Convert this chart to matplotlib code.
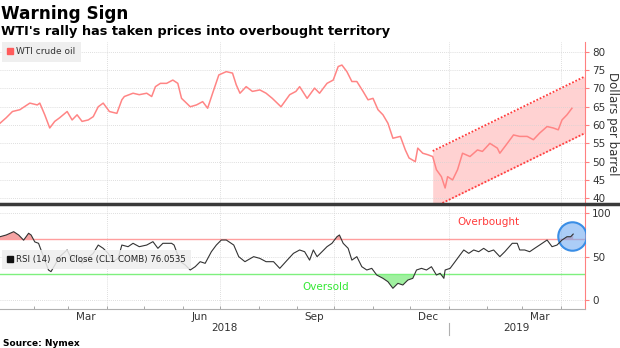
import matplotlib
matplotlib.use('Agg')
import matplotlib.pyplot as plt
import matplotlib.dates as mdates
import matplotlib.transforms as mtransforms
import matplotlib.patches as mpatches
from matplotlib.lines import Line2D
import pandas as pd
import numpy as np

# WTI crude oil
price_dates = [
    '2018-01-05', '2018-01-10', '2018-01-15', '2018-01-21', '2018-01-29',
    '2018-02-04', '2018-02-06', '2018-02-10', '2018-02-14', '2018-02-18', '2018-02-22', '2018-02-28',
    '2018-03-04', '2018-03-08', '2018-03-12', '2018-03-17', '2018-03-21', '2018-03-25', '2018-03-29',
    '2018-04-03', '2018-04-09', '2018-04-13', '2018-04-15', '2018-04-22', '2018-04-27',
    '2018-05-03', '2018-05-07', '2018-05-10', '2018-05-14', '2018-05-19', '2018-05-24', '2018-05-28', '2018-05-31',
    '2018-06-04', '2018-06-07', '2018-06-12', '2018-06-17', '2018-06-21', '2018-06-25', '2018-06-30',
    '2018-07-06', '2018-07-11', '2018-07-14', '2018-07-17', '2018-07-22', '2018-07-27',
    '2018-08-02', '2018-08-07', '2018-08-12', '2018-08-19', '2018-08-26', '2018-08-31',
    '2018-09-03', '2018-09-09', '2018-09-15', '2018-09-19', '2018-09-25', '2018-09-30',
    '2018-10-04', '2018-10-07', '2018-10-11', '2018-10-15', '2018-10-19', '2018-10-24', '2018-10-28',
    '2018-11-01', '2018-11-05', '2018-11-09', '2018-11-13', '2018-11-17', '2018-11-23', '2018-11-27', '2018-11-30',
    '2018-12-05', '2018-12-07', '2018-12-11', '2018-12-15', '2018-12-19', '2018-12-22', '2018-12-26', '2018-12-29', '2018-12-31',
    '2019-01-04', '2019-01-08', '2019-01-12', '2019-01-18', '2019-01-24', '2019-01-28',
    '2019-02-03', '2019-02-09', '2019-02-11', '2019-02-17', '2019-02-22', '2019-02-27',
    '2019-03-05', '2019-03-10', '2019-03-15', '2019-03-21', '2019-03-26', '2019-03-30',
    '2019-04-02', '2019-04-06', '2019-04-10',
]
prices = [
    60.5, 62, 63.7, 64.2, 66,
    65.5, 66, 62.8, 59.2, 61, 62, 63.7,
    61.4, 62.8, 61, 61.4, 62.3, 65, 66,
    63.7, 63.2, 66.9, 67.8, 68.7, 68.3,
    68.7, 67.8, 70.5, 71.4, 71.4, 72.3, 71.4, 67.3,
    66, 65, 65.5, 66.4, 64.6, 68.7, 73.7,
    74.6, 74.2, 71, 68.7, 70.5, 69.2,
    69.6, 68.7, 67.3, 65, 68.3, 69.2,
    70.5, 67.3, 70.1, 68.7, 71.4, 72.3,
    76, 76.4, 74.6, 71.9, 71.9, 69.2, 66.9,
    67.3, 64.2, 62.8, 60.5, 56.4, 56.9, 53.2, 51,
    50, 53.7, 52.3, 51.9, 51.4, 47.8, 45.9, 42.8, 45.9,
    45, 47.8, 52.3, 51.4, 53.2, 52.8,
    55, 53.7, 52.3, 55, 57.3, 56.9,
    56.9, 56, 57.8, 59.6, 59.2, 58.7,
    61.4, 62.8, 64.6,
]

# 14-day RSI
rsi_dates = [
    '2018-01-05', '2018-01-10', '2018-01-16', '2018-01-20', '2018-01-24', '2018-01-28', '2018-01-30',
    '2018-02-02', '2018-02-05', '2018-02-09', '2018-02-13', '2018-02-15', '2018-02-18', '2018-02-22', '2018-02-28',
    '2018-03-04', '2018-03-08', '2018-03-12', '2018-03-16', '2018-03-21', '2018-03-25', '2018-03-29',
    '2018-04-02', '2018-04-06', '2018-04-10', '2018-04-13', '2018-04-18', '2018-04-22', '2018-04-27',
    '2018-05-03', '2018-05-08', '2018-05-12', '2018-05-16', '2018-05-23', '2018-05-25', '2018-05-30',
    '2018-06-03', '2018-06-07', '2018-06-11', '2018-06-15', '2018-06-19', '2018-06-24', '2018-06-28',
    '2018-07-02', '2018-07-06', '2018-07-12', '2018-07-16', '2018-07-21', '2018-07-28',
    '2018-08-02', '2018-08-07', '2018-08-13', '2018-08-18', '2018-08-24', '2018-08-29',
    '2018-09-03', '2018-09-07', '2018-09-11', '2018-09-14', '2018-09-17', '2018-09-21', '2018-09-25', '2018-09-29',
    '2018-10-03', '2018-10-05', '2018-10-08', '2018-10-12', '2018-10-15', '2018-10-19', '2018-10-23', '2018-10-27', '2018-10-31',
    '2018-11-04', '2018-11-09', '2018-11-13', '2018-11-17', '2018-11-21', '2018-11-25', '2018-11-29',
    '2018-12-03', '2018-12-06', '2018-12-10', '2018-12-14', '2018-12-18', '2018-12-22', '2018-12-25', '2018-12-28', '2018-12-29',
    '2019-01-02', '2019-01-06', '2019-01-10', '2019-01-13', '2019-01-17', '2019-01-21', '2019-01-25', '2019-01-29',
    '2019-02-02', '2019-02-06', '2019-02-11', '2019-02-15', '2019-02-21', '2019-02-25', '2019-02-27',
    '2019-03-03', '2019-03-07', '2019-03-11', '2019-03-15', '2019-03-21', '2019-03-25', '2019-03-29',
    '2019-04-02', '2019-04-06', '2019-04-09', '2019-04-11',
]
rsi = [
    73, 75, 78.8, 75, 69, 77, 75,
    67, 65.4, 50, 34.6, 32.7, 40, 50, 57.7,
    46, 52, 42.3, 48, 53.8, 63.4, 59.6,
    53.8, 44.2, 48, 63.4, 61.5, 65.4, 61.5,
    63.4, 67.3, 59.6, 65.4, 65.4, 63.4, 44.2,
    40.4, 34.6, 38.4, 44.2, 42.3, 55.7, 63.4,
    69.2, 69.2, 63.4, 50, 44.2, 50,
    48, 44.2, 44.2, 36.5, 46, 53.8,
    57.7, 55.7, 46, 57.7, 50, 55.7, 61.5, 65.4,
    73, 75, 65.4, 59.6, 46, 50, 38.4, 34.6, 36.5,
    28.8, 25, 21.1, 13.5, 19.2, 17.3, 23,
    25, 34.6, 36.5, 34.6, 38.4, 28.8, 30.8, 25, 34.6,
    36.5, 44.2, 52, 57.7, 53.8, 57.7, 55.7, 59.6,
    55.7, 57.7, 50, 55.7, 65.4, 65.4, 57.7,
    57.7, 55.7, 59.6, 63.4, 69.2, 61.5, 63.4,
    69.2, 73, 73, 76.05,
]

# trend channel drawn on the price panel
channel_dates = ['2018-12-19 00:00', '2019-04-20 12:00']
channel_upper = [52.9, 73.3]
channel_lower = [37.4, 57.8]

overbought, oversold = 70, 30
last_rsi_label = 'RSI (14)  on Close (CL1 COMB) 76.0535'

W, H = 620, 348


def fx(px):
    return px / W


def fy(py):
    return 1 - py / H


pdates = pd.to_datetime(price_dates)
rdates = pd.to_datetime(rsi_dates)
rvals = np.array(rsi)
cdates = pd.to_datetime(channel_dates)

fig = plt.figure(figsize=(6.2, 3.48), dpi=100)
ax1 = fig.add_axes([0, fy(203), fx(585), (203 - 42) / H])
ax2 = fig.add_axes([0, fy(309), fx(585), (309 - 205) / H], sharex=ax1)

grid_kw = dict(color='#d3d3d3', lw=0.6, ls=(0, (1, 1.5)))
quarters = pd.date_range('2018-01-01', '2019-06-01', freq='QS')

# ---- price panel
ax1.fill_between(cdates, channel_lower, channel_upper, color='#ffd2d2', lw=0, zorder=1)
ax1.plot(cdates, channel_upper, color='#ff3d3d', lw=1.3, ls=(0, (1, 1)), zorder=2)
ax1.plot(cdates, channel_lower, color='#ff3d3d', lw=1.3, ls=(0, (1, 1)), zorder=2)
ax1.plot(pdates, prices, color='#ff8585', lw=1.1, zorder=3)

ax1.set_ylim(38.7, 82.7)
ax1.set_yticks(range(40, 85, 5))
ax1.grid(axis='y', **grid_kw)
for q in quarters:
    ax1.axvline(q, zorder=0, **grid_kw)

h1 = mpatches.Patch(color='#ff5c5c', label='WTI crude oil')
leg1 = ax1.legend(handles=[h1], loc='upper left', bbox_to_anchor=(0.003, 1.0),
                  borderaxespad=0, fontsize=6.5, fancybox=False, facecolor='#efefef',
                  edgecolor='none', framealpha=1, handlelength=0.7, handleheight=0.7,
                  handletextpad=0.3, borderpad=0.6)
leg1.get_texts()[0].set_color('#333333')

# ---- RSI panel
ax2.axhline(overbought, color='#ff9e9e', lw=1.0, zorder=2)
ax2.axhline(oversold, color='#7ef07e', lw=1.0, zorder=2)
ax2.fill_between(rdates, rvals, overbought, where=rvals > overbought, interpolate=True,
                 color='#f5a3a3', lw=0, zorder=1)
ax2.fill_between(rdates, rvals, oversold, where=rvals < oversold, interpolate=True,
                 color='#a0f0a0', lw=0, zorder=1)
ax2.plot(rdates, rvals, color='#333333', lw=0.8, zorder=5)
ax2.scatter([pd.Timestamp('2019-04-09 16:00')], [73.8], s=420,
            facecolor=(0.45, 0.68, 0.95, 0.6), edgecolor='#3a8ee6', lw=1.5, zorder=4)

ax2.text(pd.Timestamp('2019-02-02'), 90, 'Overbought', color='#ff3b3b',
         fontsize=7.5, ha='center', va='center')
ax2.text(pd.Timestamp('2018-09-24'), 15.4, 'Oversold', color='#33e833',
         fontsize=7.5, ha='center', va='center')

ax2.set_ylim(-10.4, 109.6)
ax2.set_yticks([0, 50, 100])
ax2.grid(axis='y', **grid_kw)
for q in quarters:
    ax2.axvline(q, zorder=0, **grid_kw)

h2 = mpatches.Patch(color='#111111', label=last_rsi_label)
leg2 = ax2.legend(handles=[h2], loc='lower left', bbox_to_anchor=(0.003, 0.385),
                  borderaxespad=0, fontsize=6.2, fancybox=False, facecolor='#eeeeee',
                  edgecolor='none', framealpha=0.85, handlelength=0.7, handleheight=0.7,
                  handletextpad=0.3, borderpad=0.6)
leg2.get_texts()[0].set_color('#222222')
leg2.set_zorder(6)

# ---- shared axis styling
xmin, xmax = pd.Timestamp('2018-01-05'), pd.Timestamp('2019-04-20 12:00')
ax1.set_xlim(xmin, xmax)

for ax in (ax1, ax2):
    ax.yaxis.tick_right()
    for s in ('left', 'top', 'bottom'):
        ax.spines[s].set_visible(False)
    ax.spines['right'].set_color('#ff8080')
    ax.tick_params(axis='y', colors='#ff8080', labelcolor='#333333', labelsize=7.5,
                   length=3, pad=2)
    ax.set_facecolor('none')

ax2.spines['bottom'].set_visible(True)
ax2.spines['bottom'].set_color('#b0b0b0')
ax2.xaxis.set_major_locator(mdates.MonthLocator(bymonth=[3, 6, 9, 12], bymonthday=15))
ax2.xaxis.set_major_formatter(mdates.DateFormatter('%b'))
ax2.xaxis.set_minor_locator(mdates.MonthLocator())
ax2.tick_params(axis='x', which='major', length=0, labelsize=7.5, labelcolor='#333333', pad=2)
ax2.tick_params(axis='x', which='minor', length=2.5, direction='in', color='#999999')
ax1.tick_params(axis='x', which='both', bottom=False, labelbottom=False)

# year labels and divider
trans = mtransforms.blended_transform_factory(ax2.transData, ax2.transAxes)
ny = pd.Timestamp('2019-01-01')
ax2.plot([ny, ny], [-0.13, -0.25], transform=trans, clip_on=False, color='#b0b0b0', lw=0.8)
ax2.text(xmin + (ny - xmin) / 2, -0.185, '2018', transform=trans, ha='center', va='center',
         fontsize=7.5, color='#333333')
ax2.text(ny + (xmax - ny) / 2, -0.185, '2019', transform=trans, ha='center', va='center',
         fontsize=7.5, color='#333333')

# panel separator
fig.add_artist(Line2D([0, 1], [fy(203.5), fy(203.5)], transform=fig.transFigure,
                      color='#3a3a3a', lw=2.5))

fig.text(fx(612), fy(124), 'Dollars per barrel', rotation=270, ha='center', va='center',
         fontsize=8.5, color='#333333')

fig.text(fx(1), fy(19), 'Warning Sign', fontsize=12.2, fontweight='bold', va='baseline')
fig.text(fx(1), fy(35), "WTI's rally has taken prices into overbought territory",
         fontsize=9.3, fontweight='bold', va='baseline')
fig.text(fx(3), fy(346), 'Source: Nymex', fontsize=6.5, fontweight='bold', va='baseline')

fig.savefig('out.png', dpi=100)
